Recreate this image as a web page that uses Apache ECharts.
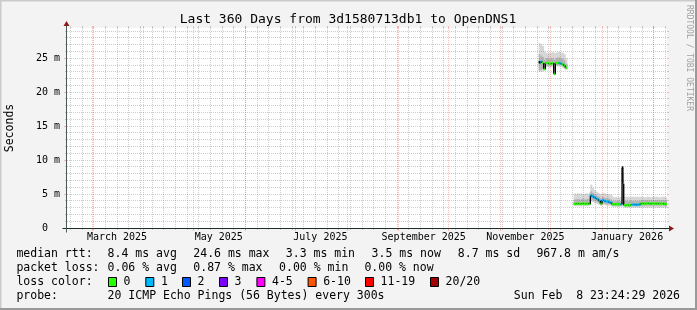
<!DOCTYPE html>
<html><head><meta charset="utf-8">
<script src="https://cdn.jsdelivr.net/npm/echarts@6/dist/echarts.min.js"></script>
<style>html,body{margin:0;padding:0;background:#f3f3f3}#c{width:697px;height:310px}</style>
</head><body><div id="c"></div>
<script>
// ---------------- data ----------------
const times = [
 '2025-11-24','2025-11-25','2025-11-26','2025-11-27','2025-11-28','2025-11-29','2025-11-30','2025-12-01','2025-12-02','2025-12-03',
 '2025-12-04','2025-12-05','2025-12-06','2025-12-07','2025-12-08','2025-12-09','2025-12-10','2025-12-11',
 '2025-12-15','2025-12-16','2025-12-17','2025-12-18','2025-12-19','2025-12-20','2025-12-21','2025-12-22','2025-12-23','2025-12-24',
 '2025-12-25','2025-12-26','2025-12-27','2025-12-28','2025-12-29','2025-12-30','2025-12-31',
 '2026-01-01','2026-01-02','2026-01-03','2026-01-04','2026-01-05','2026-01-06','2026-01-07','2026-01-08','2026-01-09','2026-01-10','2026-01-11','2026-01-12',
 '2026-01-13T00','2026-01-13T12',
 '2026-01-14','2026-01-15','2026-01-16','2026-01-17','2026-01-18','2026-01-19','2026-01-20','2026-01-21','2026-01-22','2026-01-23',
 '2026-01-24','2026-01-25','2026-01-26','2026-01-27','2026-01-28','2026-01-29','2026-01-30','2026-01-31',
 '2026-02-01','2026-02-02','2026-02-03','2026-02-04','2026-02-05','2026-02-06','2026-02-07','2026-02-08'
];
// median rtt (ms); null marks a gap (no data)
const median = [
 24.4,24.5,24.3,23.4,24.3,24.3,24.2,24.2,24.3,22.7,24.3,24.3,24.3,24.2,24.1,23.9,23.6,null,
 3.55,3.55,3.6,3.55,3.55,3.6,3.55,3.55,3.6,3.55,
 4.8,4.65,4.5,4.35,4.2,4.0,3.6,
 4.1,4.0,3.9,3.9,3.8,3.7,3.5,3.5,3.5,3.5,3.5,3.5,
 8.9,6.5,
 3.35,3.35,3.4,3.35,3.4,3.45,3.45,3.4,3.45,3.45,
 3.6,3.55,3.6,3.6,3.65,3.6,3.55,3.6,3.6,3.6,3.55,3.6,3.6,3.6,3.55,3.5
];
// lost pings out of 20 (-1 = uncoloured median)
const loss = [
 -1,1,0,0,0,0,0,0,0,0,0,0,1,1,0,0,0,null,
 0,0,0,0,0,0,0,0,0,0,
 1,1,1,1,1,1,0,
 1,1,1,1,1,1,0,0,0,0,0,1,
 -1,1,
 0,0,0,0,0,1,1,1,1,1,
 0,0,0,0,0,0,0,0,0,0,0,0,0,0,0,0
];
const pingMin = [
 23.0,23.0,23.1,23.2,23.7,23.7,23.6,23.7,23.7,22.5,23.8,23.8,23.8,23.8,23.6,23.4,23.3,null,
 3.2,3.2,3.2,3.2,3.2,3.2,3.2,3.2,3.2,3.3,
 3.9,3.8,3.7,3.6,3.5,3.4,3.2,
 3.4,3.4,3.3,3.3,3.3,3.2,3.1,3.1,3.1,3.1,3.1,3.1,
 3.3,3.3,
 3.0,3.0,3.0,3.0,3.0,3.0,3.0,3.0,3.0,3.0,
 3.0,3.0,3.0,3.0,3.0,3.0,3.0,3.0,3.0,3.0,3.0,3.0,3.0,3.0,3.0,3.0
];
const pingMax = [
 27.2,27.0,26.8,26.0,25.8,25.7,25.8,25.8,25.9,25.8,25.8,25.9,25.9,25.8,25.8,25.6,25.0,null,
 5.1,5.0,5.1,5.0,5.1,5.0,5.0,5.1,5.0,5.2,
 6.4,5.9,5.6,5.4,5.2,5.1,5.0,
 5.1,5.1,5.0,5.0,4.9,4.9,4.6,4.5,4.6,4.5,4.5,4.6,
 9.1,8.0,
 4.6,4.6,4.6,4.5,4.6,4.6,4.6,4.6,4.6,4.6,
 4.6,4.6,4.5,4.6,4.6,4.6,4.5,4.6,4.6,4.6,4.6,4.5,4.6,4.6,4.6,4.5
];
const pingLo = [
 23.2,23.3,23.4,23.5,24.0,24.0,23.9,23.9,24.0,23.0,24.0,24.0,24.0,24.0,23.8,23.6,23.4,null,
 3.4,3.4,3.4,3.4,3.4,3.4,3.4,3.4,3.4,3.4,
 4.2,4.1,4.0,3.9,3.8,3.6,3.4,
 3.6,3.6,3.5,3.5,3.5,3.4,3.3,3.3,3.3,3.3,3.3,3.3,
 4.0,3.8,
 3.2,3.2,3.2,3.2,3.2,3.2,3.2,3.2,3.2,3.2,
 3.3,3.3,3.3,3.3,3.3,3.3,3.3,3.3,3.3,3.3,3.3,3.3,3.3,3.3,3.3,3.3
];
const pingHi = [
 25.6,25.4,25.2,24.8,25.0,25.0,24.9,25.0,25.0,24.8,25.0,25.1,25.1,25.0,24.9,24.7,24.2,null,
 4.2,4.2,4.3,4.2,4.2,4.3,4.2,4.2,4.3,4.3,
 5.4,5.2,5.0,4.9,4.7,4.6,4.4,
 4.6,4.5,4.4,4.4,4.3,4.2,4.0,4.0,4.0,4.0,4.0,4.0,
 8.0,7.0,
 4.0,4.0,4.0,4.0,4.0,4.0,4.0,4.0,4.0,4.0,
 4.1,4.1,4.1,4.1,4.1,4.1,4.1,4.1,4.1,4.1,4.1,4.1,4.1,4.1,4.1,4.1
];
const yTicks = [0, 5, 10, 15, 20, 25];
const yMinorStep = 1;
const lossLabels = ['0','1','2','3','4-5','6-10','11-19','20/20'];
const lossColors = ['#26ff00','#00b8ff','#0059ff','#7e00ff','#ff00ff','#ff5500','#ff0000','#a10000'];
const statsRtt = ['8.4 ms avg','24.6 ms max','3.3 ms min','3.5 ms now','8.7 ms sd','967.8 m am/s'];
const statsLoss = ['0.06 % avg','0.87 % max','0.00 % min','0.00 % now'];
const probeText = '20 ICMP Echo Pings (56 Bytes) every 300s';
const dateText = 'Sun Feb  8 23:24:29 2026';
const titleText = 'Last 360 Days from 3d1580713db1 to OpenDNS1';
const MONTHS = ['January','February','March','April','May','June','July','August','September','October','November','December'];

// ---------------- layout ----------------
const DAY = 86400000;
const T_END = Date.UTC(2026,1,8,23,24,29);
const T_START = T_END - 360*DAY;
const Y_MAX = 29.45;
const G = {left:67, top:28, width:600, height:200};
const MONO = '"DejaVu Sans Mono", monospace';
const rowY = [254, 268, 282, 296];
const rttX = [107.6, 193.3, 285.8, 371.6, 457.8, 536.4];
const lossX = [107.6, 193.3, 279.1, 364.4];
const boxX = [108, 145.3, 182, 219, 256.4, 307.6, 365, 430];

const parseT = s => { const [d,h] = s.split('T'); const [Y,M,D] = d.split('-').map(Number); return Date.UTC(Y,M-1,D,h?Number(h):0); };

const items = [];
for (let i=0;i<times.length;i++){
  if (median[i]==null) continue;
  const t0 = parseT(times[i]);
  const t1 = i+1<times.length ? parseT(times[i+1]) : T_END;
  const prev = (i>0 && median[i-1]!=null) ? median[i-1] : -999;
  items.push([t0,t1,median[i],loss[i],pingMin[i],pingMax[i],pingLo[i],pingHi[i],prev]);
}

function lossColor(l){
  if (l<0) return '#000';
  const bounds = [0,1,2,3,5,10,19,20];
  for (let k=0;k<bounds.length;k++) if (l<=bounds[k]) return lossColors[k];
  return lossColors[7];
}

// calendar grid positions
const weekLines = [];
for (let t=Date.UTC(2025,1,16); t<T_END; t+=7*DAY) weekLines.push([t,0]);
const monthLines = [];
for (let m=2; m<14; m++){ const t=Date.UTC(2025,m,1); if (t<T_END) monthLines.push([t,0]); }
const xLabelValues = [];
for (let m=2; m<14; m+=2){ const t=Date.UTC(2025,m,1)+15*DAY; if (t<T_END) xLabelValues.push(t); }
const yMajorLines = yTicks.filter(v=>v>0).map(v=>[T_START,v]);
const yMinorLines = [];
for (let v=yMinorStep; v<Y_MAX; v+=yMinorStep) if (v%5!==0) yMinorLines.push([T_START,v]);

const MINOR_C = 'rgba(128,128,128,0.40)';
const MAJOR_C = 'rgba(255,60,60,0.34)';

function vGrid(color, tickLen){
  return function(params, api){
    const cs = params.coordSys;
    const x = Math.floor(api.coord([api.value(0),0])[0])+0.5;
    return {type:'group', children:[
      {type:'line', shape:{x1:x,y1:cs.y,x2:x,y2:cs.y+cs.height}, style:{stroke:color,lineWidth:1,lineDash:[1,1]}},
      {type:'line', shape:{x1:x,y1:cs.y-2,x2:x,y2:cs.y}, style:{stroke:color,lineWidth:1}},
      {type:'line', shape:{x1:x,y1:cs.y+cs.height,x2:x,y2:cs.y+cs.height+tickLen}, style:{stroke:color,lineWidth:1}}
    ]};
  };
}
function hGrid(color, tickLen){
  return function(params, api){
    const cs = params.coordSys;
    const y = Math.floor(api.coord([T_START, api.value(1)])[1])+0.5;
    return {type:'group', children:[
      {type:'line', shape:{x1:cs.x,y1:y,x2:cs.x+cs.width,y2:y}, style:{stroke:color,lineWidth:1,lineDash:[1,1]}},
      {type:'line', shape:{x1:cs.x-tickLen,y1:y,x2:cs.x,y2:y}, style:{stroke:color,lineWidth:1}},
      {type:'line', shape:{x1:cs.x+cs.width,y1:y,x2:cs.x+cs.width+2,y2:y}, style:{stroke:color,lineWidth:1}}
    ]};
  };
}

function renderSmoke(params, api){
  const t0=api.value(0), t1=api.value(1);
  const a=api.coord([t0, api.value(5)]), b=api.coord([t1, api.value(4)]);
  const c=api.coord([t0, api.value(7)]), d=api.coord([t1, api.value(6)]);
  return {type:'group', children:[
    {type:'rect', shape:{x:a[0], y:a[1], width:b[0]-a[0]+0.4, height:b[1]-a[1]}, style:{fill:'#d6d6d6'}},
    {type:'rect', shape:{x:c[0], y:c[1], width:d[0]-c[0]+0.4, height:d[1]-c[1]}, style:{fill:'#b2b2b2'}}
  ]};
}
function renderMedian(params, api){
  const t0=api.value(0), t1=api.value(1), m=api.value(2), l=api.value(3), prev=api.value(8);
  const p=api.coord([t0,m]), q=api.coord([t1,m]);
  const ch=[];
  if (prev>-900){
    const pp=api.coord([t0,prev]);
    ch.push({type:'line', shape:{x1:p[0],y1:pp[1],x2:p[0],y2:p[1]}, style:{stroke:'#000',lineWidth:1.3}});
  }
  ch.push({type:'line', shape:{x1:p[0],y1:p[1],x2:q[0],y2:q[1]}, style:{stroke:'#000',lineWidth:1}});
  ch.push({type:'rect', shape:{x:p[0], y:p[1]-1.2, width:q[0]-p[0]+0.3, height:2.4}, style:{fill:lossColor(l)}});
  return {type:'group', children:ch};
}

// ---------------- graphics (chrome + legend) ----------------
const gfx = [];
const txt = (text, x, y, opts={}) => gfx.push(Object.assign({type:'text', x, y, silent:true,
  style:{text, x:0, y:0, font:(opts.size||11.5)+'px '+MONO, fill:opts.fill||'#000',
         align:opts.align||'left', verticalAlign:'middle', textAlign:opts.align||'left', textVerticalAlign:'middle'}},
  opts.rotation!=null?{rotation:opts.rotation}:{}));
// frame
gfx.push({type:'line', silent:true, shape:{x1:0,y1:0.5,x2:697,y2:0.5}, style:{stroke:'#cbcbcb',lineWidth:2}});
gfx.push({type:'line', silent:true, shape:{x1:0.5,y1:0,x2:0.5,y2:310}, style:{stroke:'#cbcbcb',lineWidth:2}});
gfx.push({type:'line', silent:true, shape:{x1:0,y1:309,x2:697,y2:309}, style:{stroke:'#999999',lineWidth:2}});
gfx.push({type:'line', silent:true, shape:{x1:696,y1:0,x2:696,y2:310}, style:{stroke:'#999999',lineWidth:2}});
// axes
const X0 = G.left-0.5, Y0 = G.top+G.height+0.5, X1 = G.left+G.width, Y1 = G.top;
gfx.push({type:'line', silent:true, z:10, shape:{x1:X0-4,y1:Y0,x2:X1+4,y2:Y0}, style:{stroke:'#1c2c28',lineWidth:1}});
gfx.push({type:'line', silent:true, z:10, shape:{x1:X0,y1:Y0+4,x2:X0,y2:Y1-3}, style:{stroke:'#4a5a56',lineWidth:1}});
gfx.push({type:'polygon', silent:true, z:10, shape:{points:[[X1+2,Y0-3],[X1+2,Y0+3],[X1+7,Y0]]}, style:{fill:'#8b1a1a'}});
gfx.push({type:'polygon', silent:true, z:10, shape:{points:[[X0-3,Y1-2],[X0+3,Y1-2],[X0,Y1-7]]}, style:{fill:'#8b1a1a'}});
// texts
txt(titleText, 348, 20, {size:13, align:'center'});
txt('Seconds', 10, 128, {rotation:Math.PI/2, align:'center'});
txt('RRDTOOL / TOBI OETIKER', 689, 5, {rotation:-Math.PI/2, size:8, fill:'#a0a0a0'});
txt('median rtt:', 16.4, rowY[0]);
statsRtt.forEach((s,i)=>txt(s, rttX[i], rowY[0]));
txt('packet loss:', 16.4, rowY[1]);
statsLoss.forEach((s,i)=>txt(s, lossX[i], rowY[1]));
txt('loss color:', 16.4, rowY[2]);
lossLabels.forEach((s,i)=>{
  gfx.push({type:'rect', silent:true, shape:{x:boxX[i]+0.5, y:rowY[2]-4.5, width:8, height:9}, style:{fill:lossColors[i], stroke:'#000', lineWidth:1}});
  txt(s, boxX[i]+15.6, rowY[2]);
});
txt('probe:', 16.4, rowY[3]);
txt(probeText, 107.6, rowY[3]);
txt(dateText, 680, rowY[3], {align:'right'});

// ---------------- chart ----------------
const chart = echarts.init(document.getElementById('c'), null, {renderer:'canvas'});
chart.setOption({
  animation:false,
  backgroundColor:'#f3f3f3',
  grid:{left:G.left, top:G.top, width:G.width, height:G.height, show:true, backgroundColor:'#ffffff', borderWidth:0},
  xAxis:{type:'value', min:T_START, max:T_END, axisLine:{show:false}, axisTick:{show:false}, splitLine:{show:false},
    axisLabel:{customValues:xLabelValues, margin:4, fontFamily:MONO, fontSize:10, color:'#000',
      formatter:v=>{const d=new Date(v); return MONTHS[d.getUTCMonth()]+' '+d.getUTCFullYear();}}},
  yAxis:{type:'value', min:0, max:Y_MAX, axisLine:{show:false}, axisTick:{show:false}, splitLine:{show:false},
    axisLabel:{customValues:yTicks, margin:7, fontFamily:MONO, fontSize:10, color:'#000',
      formatter:v=> v===0 ? '0\u00a0\u00a0' : v+' m'}},
  series:[
    {type:'custom', name:'smoke', silent:true, clip:true, renderItem:renderSmoke, encode:{x:[0,1], y:[4,5]}, data:items},
    {type:'custom', name:'weeks', silent:true, renderItem:vGrid(MINOR_C,2), data:weekLines},
    {type:'custom', name:'months', silent:true, renderItem:vGrid(MAJOR_C,3), data:monthLines},
    {type:'custom', name:'yminor', silent:true, renderItem:hGrid(MINOR_C,2), data:yMinorLines},
    {type:'custom', name:'ymajor', silent:true, renderItem:hGrid(MAJOR_C,3), data:yMajorLines},
    {type:'custom', name:'median', silent:true, clip:true, renderItem:renderMedian, encode:{x:[0,1], y:2}, data:items}
  ],
  graphic:gfx
});
</script>
</body></html>
